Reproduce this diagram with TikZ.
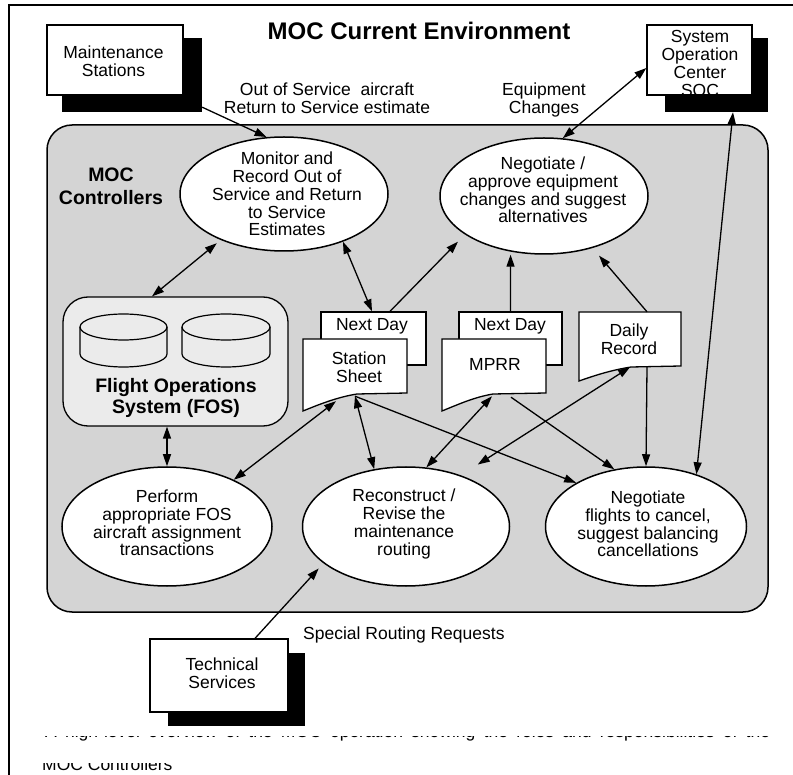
\documentclass[tikz,border=0pt]{standalone}
\usepackage{fontspec}
\setmainfont{Liberation Sans}
\usetikzlibrary{arrows.meta,shapes.geometric,calc}
\definecolor{mocgray}{RGB}{212,212,212}
\definecolor{fosgray}{RGB}{235,235,235}
\begin{document}
\begin{tikzpicture}[x=1pt,y=-1pt,
  >={Triangle[length=12pt,width=8pt]},
  txt/.style={font=\fontsize{17.5}{17.8}\selectfont,align=center,inner sep=0pt},
  btxt/.style={font=\fontsize{19.5}{21}\selectfont\bfseries,align=center,inner sep=0pt},
  proc/.style={ellipse,draw,fill=white,line width=1.5pt,inner sep=0pt},
  wbox/.style={rectangle,draw,fill=white,line width=1.3pt,inner sep=0pt},
  sbox/.style={rectangle,fill=black,inner sep=0pt},
  refbox/.style={rectangle,inner sep=0pt},
  docshape/.style={draw,fill=white,line width=1.3pt},
  conn/.style={line width=1.3pt},
]
\useasboundingbox (0,0) rectangle (793,775);
\fill[white] (0,0) rectangle (793,775);
\draw[line width=2pt] (9,775) -- (9,5) -- (793,5);

% MOC area
\node[draw,fill=mocgray,line width=1.5pt,rounded corners=25pt,minimum width=721pt,minimum height=487pt,inner sep=0pt] (moc) at (407.5,368.5) {};
\node[btxt,font=\fontsize{19.5}{23}\selectfont\bfseries] (mocT) at (111,186) {MOC\\Controllers};

% title and labels
\node[font=\fontsize{24}{26}\selectfont\bfseries,inner sep=0pt] (title) at (419,31) {MOC Current Environment};
\node[txt] (oos) at (327,98.5) {Out of Service\ \ aircraft\\Return to Service estimate};
\node[txt] (eqc) at (544,100) {Equipment\\Changes};
\node[txt,anchor=west] (srr) at (303,635) {Special Routing Requests};

% external boxes
\node[sbox,minimum width=140pt,minimum height=74pt] (msS) at (132,75) {};
\node[wbox,minimum width=136pt,minimum height=70pt] (ms) at (115,60) {};
\node[txt] (msT) at (113.5,61) {Maintenance\\Stations};

\node[sbox,minimum width=103pt,minimum height=74pt] (socS) at (716.5,75) {};
\node[wbox,minimum width=105pt,minimum height=70pt] (soc) at (699.5,60) {};
\node[txt] (socT) at (700,63.5) {System\\Operation\\Center\\SOC};

\node[sbox,minimum width=137pt,minimum height=73pt] (tsS) at (236,689.5) {};
\node[wbox,minimum width=138pt,minimum height=73pt] (ts) at (219,675.5) {};
\node[txt] (tsT) at (222,673) {Technical\\Services};

% processes
\node[proc,minimum width=208pt,minimum height=114pt] (mon) at (284,194) {};
\node[txt] (monT) at (287,194) {Monitor and\\Record Out of\\Service and Return\\to Service\\Estimates};
\node[proc,minimum width=208pt,minimum height=116pt] (neg) at (544,196) {};
\node[txt] (negT) at (543,190) {Negotiate /\\approve equipment\\changes and suggest\\alternatives};
\node[proc,minimum width=210pt,minimum height=119pt] (perf) at (167,526.5) {};
\node[txt] (perfT) at (167,523) {Perform\\appropriate FOS\\aircraft assignment\\transactions};
\node[proc,minimum width=207pt,minimum height=119pt] (rec) at (406,526.5) {};
\node[txt] (recT) at (404,524) {Reconstruct /\\Revise the\\maintenance\\routing};
\node[proc,minimum width=201pt,minimum height=119pt] (canc) at (646,526.5) {};
\node[txt] (cancT) at (648,524) {Negotiate\\flights to cancel,\\suggest balancing\\cancellations};

% FOS
\node[draw,fill=fosgray,line width=1.3pt,rounded corners=25pt,minimum width=225pt,minimum height=129pt,inner sep=0pt] (fos) at (175.5,361.5) {};
\foreach \cx/\rx in {123.5/43.5, 226/44}{
  \draw[line width=1.2pt] (\cx-\rx,327) -- (\cx-\rx,354) arc[start angle=180,end angle=360,x radius=\rx pt,y radius=13pt] -- (\cx+\rx,327);
  \draw[line width=1.2pt] (\cx,327) ellipse [x radius=\rx pt,y radius=13pt];
}
\node[btxt,font=\fontsize{19.5}{20.5}\selectfont\bfseries] (fosT) at (176,398) {Flight Operations\\System (FOS)};

% documents
\node[wbox,minimum width=105pt,minimum height=53pt] (ndS) at (373.5,338.5) {};
\node[txt] (ndST) at (372,326) {Next Day};
\node[refbox,minimum width=104pt,minimum height=54pt] (ss) at (355,366) {};
\draw[docshape] (303,339) -- (407,339) -- (407,393) -- (357,394) .. controls (338,397) and (320,404) .. (303,411) -- cycle;
\node[txt] (ssT) at (359,367) {Station\\Sheet};

\node[wbox,minimum width=103pt,minimum height=53pt] (ndM) at (510.5,338.5) {};
\node[txt] (ndMT) at (510,326) {Next Day};
\node[refbox,minimum width=104pt,minimum height=54pt] (mp) at (494,366) {};
\draw[docshape] (442,339) -- (546,339) -- (546,393) -- (493,394) .. controls (475,397) and (459,404) .. (442,411) -- cycle;
\node[txt] (mpT) at (495,364) {MPRR};

\node[refbox,minimum width=102pt,minimum height=54pt] (dr) at (630,339) {};
\draw[docshape] (579,312) -- (681,312) -- (681,366) -- (631,367) .. controls (612,370) and (596,375) .. (579,381) -- cycle;
\node[txt] (drT) at (629,339) {Daily\\Record};

% connectors
\draw[conn,->] ($(msS.south east)+(0,-5)$) -- (mon.107);
\draw[conn,<->,shorten >=5pt] ($(fos.north)+(-23.5,0)$) -- (mon.216);
\draw[conn,<->] (mon.321) -- ($(ndS.north)+(-1.5,0)$);
\draw[conn,->,shorten >=10pt] ($(ndS.north)+(16.5,0)$) -- (neg.206);
\draw[conn,->,shorten >=3pt] (ndM.north) -- (neg.239);
\draw[conn,->,shorten >=10pt] ($(dr.north)+(17,0)$) -- (neg.313);
\draw[conn,<->] ($(soc.west)+(0,8)$) -- (neg.72);
\draw[conn,<->] ($(socS.south)+(16.5,0)$) -- (canc.46);
\draw[conn,<->] ($(fos.south)+(-8.5,0)$) -- (perf.north);
\draw[conn,<->] ($(ss.south)+(-19,8)$) -- (perf.35);
\draw[conn,<->] ($(ss.south)+(0,3)$) -- (rec.119);
\draw[conn,->] ($(ss.south)+(0,3)$) -- (canc.148);
\draw[conn,<->] ($(mp.south)+(-2,3)$) -- (rec.71);
\draw[conn,->] ($(mp.south)+(17,4)$) -- (canc.119);
\draw[conn,<->,shorten >=20pt] ($(dr.south)+(0,1)$) -- (rec.43);
\draw[conn,->] ($(dr.south)+(17,1)$) -- (canc.north);
\draw[conn,->,shorten >=7pt] ($(ts.north)+(36,0)$) -- (rec.204);

% clipped caption
\begin{scope}
\clip (12,736.3) rectangle (793,745);
\node[txt,anchor=base west] (cap1) at (45,737.5) {\hbox to 725pt{A high-level overview of the MOC operation showing the roles and responsibilities of the}};
\end{scope}
\begin{scope}
\clip (12,763) rectangle (793,775);
\node[txt,anchor=base west] (cap2) at (42,770) {MOC Controllers};
\end{scope}
\end{tikzpicture}
\end{document}
